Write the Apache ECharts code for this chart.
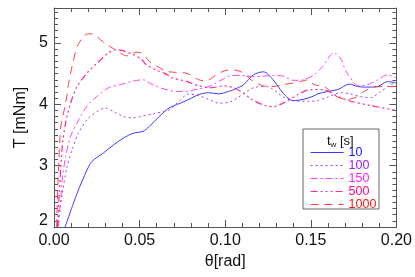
<!DOCTYPE html>
<html><head><meta charset="utf-8">
<script src="https://cdn.jsdelivr.net/npm/echarts@6/dist/echarts.min.js"></script>
<style>html,body{margin:0;padding:0;background:#fff}#c{width:415px;height:277px}</style>
</head><body><div id="c"></div>
<script>
const seriesNames = ['10', '100', '150', '500', '1000'];
const xTicks = [0.00, 0.05, 0.10, 0.15, 0.20];
const yTicks = [2, 3, 4, 5];
const yTop = 5.57;

const theta10 = [0.0065, 0.0135, 0.0193, 0.0222, 0.029, 0.0348, 0.0406, 0.0464, 0.052, 0.0557, 0.0614, 0.0672, 0.073, 0.0788, 0.0846, 0.0904, 0.096, 0.102, 0.105, 0.1107, 0.1165, 0.1223, 0.128, 0.1339, 0.1397, 0.1455, 0.1513, 0.154, 0.16, 0.1658, 0.1726, 0.1774, 0.1832, 0.189, 0.1948, 0.2];
const T10 = [2.0, 2.55, 2.93, 3.07, 3.21, 3.34, 3.45, 3.53, 3.56, 3.64, 3.80, 3.94, 4.01, 4.08, 4.16, 4.19, 4.17, 4.21, 4.24, 4.32, 4.48, 4.53, 4.40, 4.18, 4.06, 4.08, 4.13, 4.17, 4.21, 4.24, 4.33, 4.29, 4.28, 4.29, 4.37, 4.35];

const theta100 = [0.002, 0.0035, 0.0048, 0.0077, 0.0106, 0.0143, 0.0193, 0.0251, 0.030, 0.0348, 0.0406, 0.0464, 0.052, 0.0585, 0.0672, 0.073, 0.0788, 0.0846, 0.0904, 0.0962, 0.102, 0.108, 0.1165, 0.124, 0.1339, 0.139, 0.148, 0.154, 0.16, 0.1675, 0.173, 0.18, 0.185, 0.19, 0.1948, 0.2];
const T100 = [2.0, 2.3, 2.55, 2.99, 3.26, 3.53, 3.75, 3.88, 3.94, 3.88, 3.80, 3.78, 3.81, 3.85, 3.91, 4.05, 4.17, 4.14, 4.08, 4.02, 4.03, 4.12, 4.27, 4.29, 4.12, 4.06, 4.05, 4.06, 4.12, 4.19, 4.17, 4.12, 4.11, 4.19, 4.29, 4.36];

const theta150 = [0.0025, 0.0039, 0.0048, 0.0068, 0.0097, 0.0145, 0.0193, 0.0251, 0.0319, 0.0387, 0.0464, 0.052, 0.0576, 0.0654, 0.072, 0.077, 0.0828, 0.0904, 0.098, 0.104, 0.11, 0.117, 0.1223, 0.128, 0.134, 0.1397, 0.1455, 0.1513, 0.157, 0.1635, 0.1675, 0.1704, 0.1745, 0.1774, 0.1832, 0.189, 0.1948, 0.2];
const T150 = [2.0, 2.44, 2.77, 3.15, 3.48, 3.75, 3.97, 4.13, 4.27, 4.32, 4.38, 4.40, 4.32, 4.24, 4.21, 4.21, 4.24, 4.29, 4.40, 4.47, 4.47, 4.45, 4.46, 4.47, 4.46, 4.39, 4.40, 4.47, 4.62, 4.84, 4.74, 4.55, 4.38, 4.30, 4.32, 4.40, 4.48, 4.43];

const theta500 = [0.002, 0.0048, 0.0068, 0.0097, 0.0135, 0.0193, 0.0251, 0.0319, 0.0367, 0.0406, 0.0464, 0.0512, 0.0537, 0.0595, 0.065, 0.0692, 0.078, 0.0846, 0.092, 0.0991, 0.105, 0.1107, 0.1155, 0.1223, 0.128, 0.1339, 0.1426, 0.15, 0.157, 0.1658, 0.1733, 0.185, 0.2];
const T500 = [2.0, 3.31, 3.70, 4.02, 4.29, 4.51, 4.67, 4.84, 4.89, 4.87, 4.81, 4.73, 4.65, 4.56, 4.50, 4.43, 4.37, 4.30, 4.27, 4.30, 4.27, 4.18, 4.08, 3.99, 3.96, 4.02, 4.16, 4.24, 4.24, 4.13, 4.05, 3.98, 3.90];

const theta1000 = [0.0015, 0.0038, 0.0068, 0.0087, 0.0106, 0.0135, 0.0174, 0.0203, 0.0232, 0.029, 0.0329, 0.0387, 0.0425, 0.0483, 0.052, 0.0557, 0.0614, 0.0654, 0.0712, 0.077, 0.0846, 0.0885, 0.0943, 0.1, 0.1049, 0.1107, 0.115, 0.1223, 0.128, 0.134, 0.1438, 0.148, 0.152, 0.158, 0.1647, 0.1716, 0.1774, 0.181, 0.187, 0.193, 0.2];
const T1000 = [2.0, 3.59, 4.02, 4.37, 4.62, 4.94, 5.11, 5.15, 5.14, 5.01, 4.94, 4.84, 4.79, 4.85, 4.82, 4.70, 4.60, 4.54, 4.52, 4.51, 4.40, 4.38, 4.47, 4.55, 4.56, 4.51, 4.40, 4.30, 4.29, 4.32, 4.37, 4.40, 4.32, 4.29, 4.13, 4.08, 4.13, 4.21, 4.28, 4.29, 4.29];

const thetas = [theta10, theta100, theta150, theta500, theta1000];
const torques = [T10, T100, T150, T500, T1000];
const lineColors = ['rgb(58,58,255)', 'rgb(160,64,255)', 'rgb(255,64,255)', 'rgb(255,40,150)', 'rgb(255,64,64)'];
const textColors = ['#1515ff', '#9a20ff', '#ff20ff', '#ff0a80', '#ff1515'];
const dashes = ['solid', [2, 3], [7, 3, 2, 3], [7, 3, 2, 3, 2, 3, 2, 3], [8, 6]];
const widths = [1, 1, 1, 1.2, 1];

const FONT = 'Liberation Sans, Arial, Helvetica, sans-serif';
const frameColor = '#555';

const chart = echarts.init(document.getElementById('c'), null, {renderer: 'canvas'});

function xAx(pos, show) {
  return {
    type: 'value', position: pos, min: xTicks[0], max: xTicks[xTicks.length - 1],
    interval: xTicks[1] - xTicks[0],
    axisLine: {show: true, onZero: false, lineStyle: {color: frameColor, width: 1}},
    axisTick: {show: true, inside: true, length: 7, lineStyle: {color: frameColor}},
    minorTick: {show: true, splitNumber: 5, length: 4, lineStyle: {color: frameColor}},
    splitLine: {show: false},
    axisLabel: {show: show, margin: 6, fontSize: 16, color: '#111', fontFamily: FONT,
      formatter: v => v.toFixed(2)},
    name: show ? 'θ[rad]' : '', nameLocation: 'middle', nameGap: 25,
    nameTextStyle: {fontSize: 16, color: '#111', fontFamily: FONT}
  };
}
function yAx(pos, show) {
  return {
    type: 'value', position: pos, min: yTicks[0], max: yTop, interval: 1,
    axisLine: {show: true, onZero: false, lineStyle: {color: frameColor, width: 1}},
    axisTick: {show: true, inside: true, length: 7, lineStyle: {color: frameColor}},
    minorTick: {show: true, splitNumber: 10, length: 4, lineStyle: {color: frameColor}},
    splitLine: {show: false},
    axisLabel: {show: show, margin: 6, fontSize: 16, color: '#111', fontFamily: FONT,
      showMaxLabel: false,
      formatter: v => (yTicks.indexOf(v) >= 0 ? (v === yTicks[0] ? '{b|' + v + '}' : String(v)) : ''),
      rich: {b: {fontSize: 16, color: '#111', fontFamily: FONT, padding: [0, 0, 13, 0]}}},
    name: show ? 'T [mNm]' : '', nameLocation: 'middle', nameGap: 25,
    nameTextStyle: {fontSize: 16, color: '#111', fontFamily: FONT}
  };
}

const series = seriesNames.map((n, i) => ({
  name: n, type: 'line', xAxisIndex: 0, yAxisIndex: 0,
  data: thetas[i].map((t, j) => [t, torques[i][j]]),
  showSymbol: false, symbol: 'none', smooth: 0.3, clip: true,
  color: lineColors[i],
  lineStyle: {color: lineColors[i], width: widths[i], type: dashes[i]},
  itemStyle: {color: lineColors[i]}
}));

chart.setOption({
  animation: false,
  backgroundColor: '#fff',
  grid: {left: 54, right: 16, top: 8, bottom: 50, containLabel: false},
  xAxis: [xAx('bottom', true), xAx('top', false)],
  yAxis: [yAx('left', true), yAx('right', false)],
  legend: {
    z: 100,
    orient: 'vertical', left: 310, top: 146, padding: 0,
    itemWidth: 33, itemHeight: 12, itemGap: 0,
    itemStyle: {opacity: 0},
    lineStyle: {width: 1.2},
    data: seriesNames.map((n, i) => ({name: n, textStyle: {color: textColors[i]}})),
    textStyle: {fontSize: 12.5, fontFamily: FONT},
    selectedMode: false
  },
  graphic: [
    {type: 'rect', z: 10, shape: {x: 303, y: 129, width: 76, height: 80},
      style: {fill: '#fff', stroke: '#666', lineWidth: 1}},
    {type: 'text', z: 60, left: 327, top: 135,
      style: {text: '{a|t}{s|w}{a| [s]}', rich: {
        a: {fontSize: 13, fontFamily: FONT, fill: '#111'},
        s: {fontSize: 8, fontFamily: FONT, fill: '#111', verticalAlign: 'bottom', padding: [6, 0, 0, 0]}}}}
  ],
  series: series
});
</script></body></html>
